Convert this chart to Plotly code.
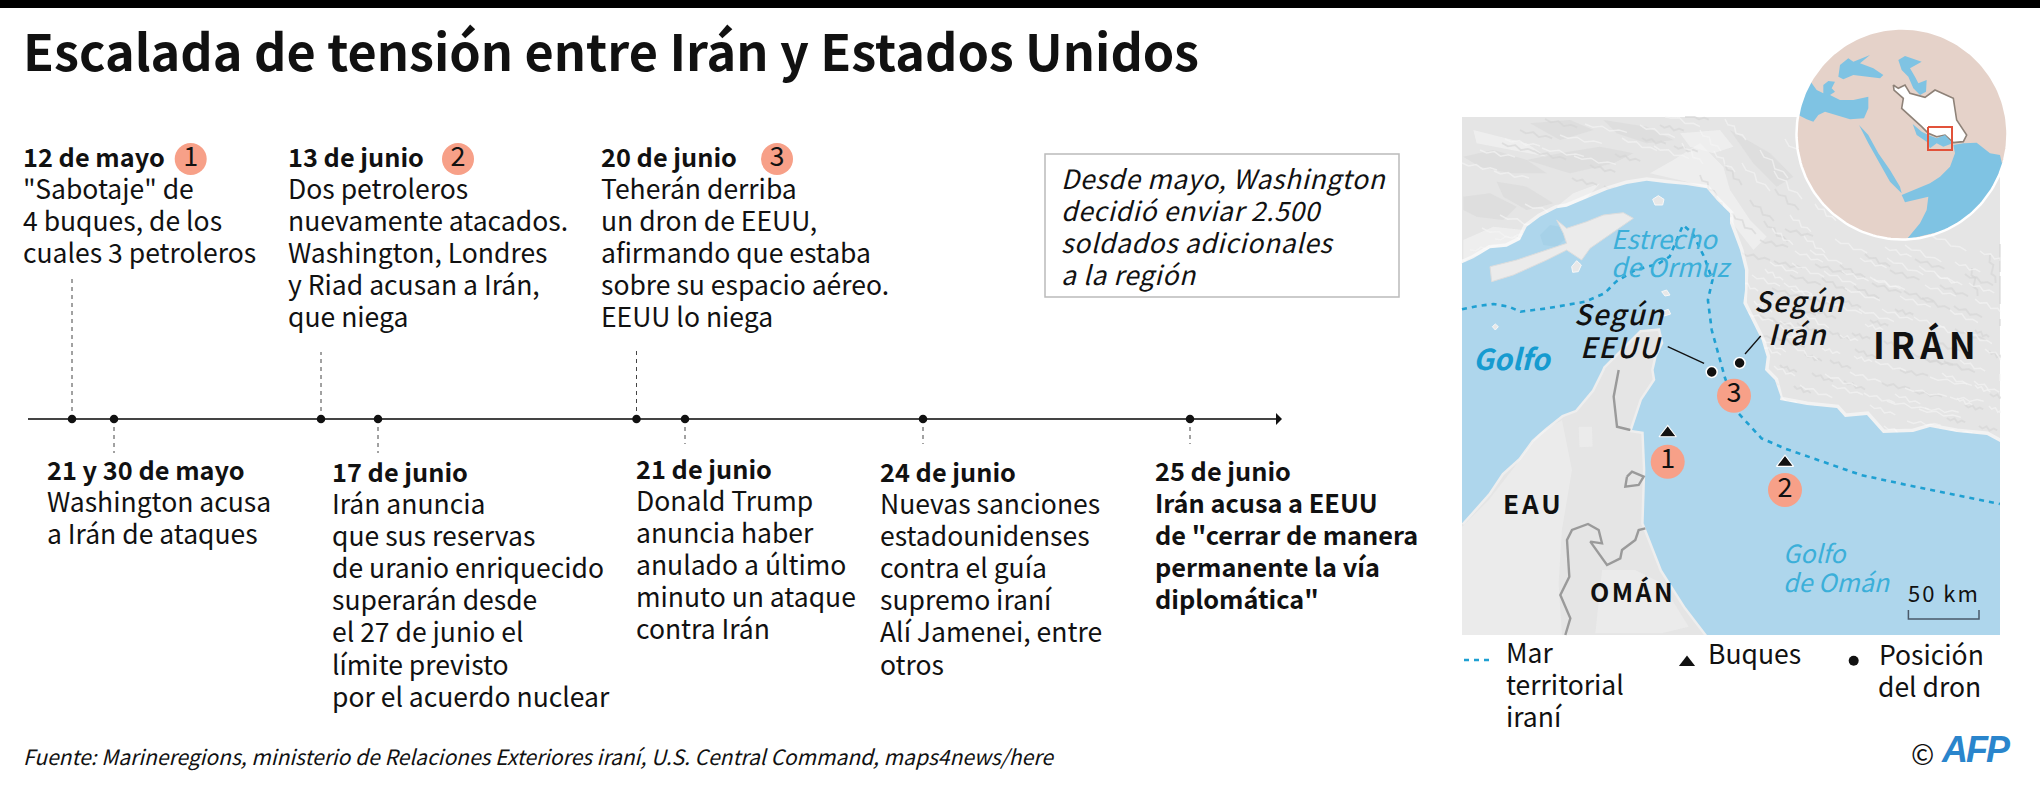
import numpy as np
import plotly.graph_objects as go

FONT = "Noto Sans CJK SC"
W, H = 2040, 788
BODY = 26.5
DATE = 25.3
INK = "#111111"
BADGE = "#F7A088"
SEA = "#AED6EC"
LAND = "#E5E5E5"
DOTLINE = "#1FA0D2"
LABELBLUE = "#3BAFD9"

TITLE = "Escalada de tensión entre Irán y Estados Unidos"
SOURCE = "Fuente: Marineregions, ministerio de Relaciones Exteriores iraní, U.S. Central Command, maps4news/here"

# Timeline
TIMELINE_X = [72, 114, 321, 378, 636.5, 685, 923, 1190]
LEADER_END = [277, 453, 352, 453, 348, 444, 444, 444]
AXIS_Y = 419
EVENT_DATES = ["12 de mayo", "21 y 30 de mayo", "13 de junio", "17 de junio",
               "20 de junio", "21 de junio", "24 de junio", "25 de junio"]
EVENT_X = [24, 48, 289, 333, 601.5, 636.5, 881, 1156]
EVENT_BASE = [167, 480, 167, 482, 167, 479, 482, 481]
EVENT_LINES = [
    ['"Sabotaje" de', "4 buques, de los", "cuales 3 petroleros"],
    ["Washington acusa", "a Irán de ataques"],
    ["Dos petroleros", "nuevamente atacados.", "Washington, Londres", "y Riad acusan a Irán,", "que niega"],
    ["Irán anuncia", "que sus reservas", "de uranio enriquecido", "superarán desde", "el 27 de junio el", "límite previsto", "por el acuerdo nuclear"],
    ["Teherán derriba", "un dron de EEUU,", "afirmando que estaba", "sobre su espacio aéreo.", "EEUU lo niega"],
    ["Donald Trump", "anuncia haber", "anulado a último", "minuto un ataque", "contra Irán"],
    ["Nuevas sanciones", "estadounidenses", "contra el guía", "supremo iraní", "Alí Jamenei, entre", "otros"],
    ["Irán acusa a EEUU", 'de "cerrar de manera', "permanente la vía", 'diplomática"'],
]
EVENT_BOLD = [False, False, False, False, False, False, False, True]
LINE_STEP = 32.1
BADGE_LABELS = ["1", "2", "3"]
BADGE_TOP_X = [190.7, 458, 777]
BADGE_TOP_Y = 159
BADGE_MAP_X = [1667.7, 1785, 1734]
BADGE_MAP_Y = [461.7, 490, 395.7]

NOTE_LINES = ["Desde mayo, Washington", "decidió enviar 2.500", "soldados adicionales", "a la región"]
NOTE_BASE = [189, 221, 253, 285]

# Map outline (pixel traces of the picture)
MAP_X0, MAP_X1, MAP_Y0, MAP_Y1 = 1462, 2000, 117, 635

def z6(p):  # crop 1460,110 at 3x
    return [(1460 + a / 3, 110 + b / 3) for a, b in p]
def z8(p):  # crop 1462,370 at 3x
    return [(1462 + a / 3, 370 + b / 3) for a, b in p]
def z3(p):  # crop 1440,380 at 2.613x/3x
    return [(1440 + a / 2.613, 380 + b / 3) for a, b in p]
def z2(p):  # crop 1440,0 at 2.613x/3x
    return [(1440 + a / 2.613, b / 3) for a, b in p]
def zg(p):  # crop 1790,20 at 3x
    return [(1790 + a / 3, 20 + b / 3) for a, b in p]

NORTH_COAST = z6([(5,460),(40,445),(90,415),(140,410),(180,390),(200,350),(240,320),(290,295),(320,290),(380,265),
                  (440,240),(500,222),(560,212),(620,220),(680,225),(740,235),(770,270),(810,310),(810,340),(840,420),
                  (855,480),(855,540),(850,580),(880,640),(905,690),(920,740),(915,780)])
EAST_COAST = [(1780,400),(1807,405),(1837,408),(1845,417),(1867,415),(1883,433),(1913,432),(1930,427),(1957,432),(1987,435),(2000,442)]
OMAN_COAST = z8([(735,795),(670,710),(600,600),(545,460),(550,300),(545,185),(510,180),(540,90),(580,30),(575,0)]) \
    + z6([(590,740),(610,700),(600,655),(540,660),(480,720),(430,770)]) \
    + z8([(420,0),(390,60),(340,120),(300,135),(250,175),(210,210),(170,265),(120,310),(80,370),(0,460)])
SEA_POLY = NORTH_COAST + z3([(875,0),(890,50)]) + EAST_COAST + [(2000,635)] + OMAN_COAST
QESHM = z6([(90,470),(95,515),(160,495),(260,450),(320,420),(365,450),(390,415),(440,380),(490,345),(520,325),
            (490,308),(430,315),(380,335),(320,355),(290,330),(310,370),(320,400),(260,420),(170,450)])
ISLANDS = [z6([(578,268),(595,257),(612,268),(608,285),(585,285)]),
           z6([(335,470),(350,452),(364,465),(355,485),(338,487)]),
           z6([(97,650),(106,642),(115,650),(106,660)]),
           z6([(605,545),(620,540),(630,555),(615,558)]),
           z6([(605,605),(625,598),(632,612),(612,618)])]
BAY = z6([(240,375),(270,345),(300,350),(318,385),(290,410),(250,405)])
DARK_PATCHES = [z6(p) for p in [
    [(10,140),(100,120),(200,150),(260,190),(150,190),(60,170)],
    [(200,150),(300,130),(420,110),(520,130),(460,160),(330,190)],
    [(10,260),(90,250),(170,290),(130,330),(50,320),(10,300)],
    [(430,30),(560,50),(640,90),(560,100),(470,70)],
    [(810,60),(930,130),(1000,200),(950,230),(880,160)],
    [(210,40),(330,30),(400,60),(300,90)],
    [(110,215),(200,230),(280,280),(200,300),(130,260)],
]]
LIGHT_PATCHES = [z6(p) for p in [
    [(570,190),(640,150),(720,100),(790,170),(810,240),(870,330),(920,380),(880,420),(810,330),(760,240),(680,215)],
    [(290,290),(340,250),(420,220),(380,265),(300,300)],
    [(10,390),(100,350),(190,360),(180,400),(130,415),(40,440),(10,455)],
    [(40,60),(200,100),(260,140),(150,120),(50,100)],
    [(660,70),(780,60),(820,110),(760,130),(690,110)],
]]
SOUTH_LIGHT = [z8([(0,470),(80,390),(150,300),(230,190),(300,150),(330,300),(300,480),(290,640),(300,800),(0,800)]),
               z8([(350,170),(390,170),(392,230),(352,232)]),
               z8([(420,600),(520,600),(600,640),(680,770),(600,790),(400,790)])]
LIGHT_STROKES = [(1770,262,40,16),(1810,250,46,20),(1860,258,38,14),(1905,245,52,24),(1955,262,36,14),
                 (1766,300,36,12),(1845,288,50,18),(1900,296,44,16),(1950,310,40,18),(1760,345,30,14),
                 (1850,372,44,14),(1905,388,60,12),(1800,385,46,18),(1870,405,36,14),(1925,408,48,6),
                 (1960,360,36,16),(1740,280,26,16),(1780,325,34,20),(1975,385,22,10),(1840,335,26,8),
                 (1480,150,50,10),(1560,135,60,12),(1640,125,50,18),(1500,215,60,18),(1590,210,44,14),
                 (1700,130,30,30),(1760,150,40,40),(1790,215,30,24),(1470,250,40,-6)]
DARK_STROKES = [(1790,275,44,14),(1840,265,36,18),(1890,270,42,14),(1940,285,40,16),(1760,315,44,16),
                (1815,310,30,12),(1870,320,26,8),(1930,340,44,16),(1975,330,20,10),(1830,360,30,12),
                (1780,365,24,10),(1900,370,40,8),(1965,405,26,6),(1760,240,40,10),(1990,255,8,40),
                (1520,130,46,12),(1590,165,36,10),(1700,175,24,30),(1750,200,34,30),(1660,125,34,8)]
STROKE_COPIES = [(0, 0), (14, 21), (-18, 13), (25, -11)]
STROKE_JAG = [0, 1.6, -1.2, 2, -0.8, 0]

TERRITORIAL = z2([(57,928),(100,918),(140,912),(180,920),(210,935),(280,925),(380,905),(430,880),(460,845),(510,810),
                  (570,792),(600,770),(622,710),(635,675),(660,700),(690,770),(712,840),(700,900),(710,990),(745,1135)]) \
    + z3([(780,100),(840,175),(900,205),(1000,245),(1100,285),(1200,310),(1350,345),(1463,372)])
BORDERS = [z8([(470,0),(455,80),(465,170),(505,180)]),
           z8([(550,475),(530,480),(520,510),(480,540),(475,565),(435,585),(385,515),(420,520),(410,480),(378,462),
               (330,480),(315,510),(322,620),(295,675),(325,745),(310,795)]),
           z8([(495,320),(510,305),(545,320),(530,345),(490,350),(495,320)])]
SHIP_X = [1667.7, 1785]
SHIP_Y = [433, 462.7]
DRONE_X = [1711.7, 1739.6]
DRONE_Y = [372, 363]
CALLOUTS = [z2([(595,1040),(690,1090)]), z2([(838,1008),(797,1062)])]

# Globe
GC = (1902, 134)
GR = 105.5
G_SEAS = [
    [(62,185),(80,210),(100,220),(100,195),(115,183),(135,185),(125,205),(135,215),(120,225),(150,240),(190,240),(235,230),
     (235,265),(222,295),(180,298),(140,285),(105,275),(85,285),(70,305),(50,298),(25,285),(35,240)],
    [(145,170),(150,135),(175,115),(190,125),(240,105),(210,130),(250,145),(280,165),(270,175),(220,170),(190,165),(160,178)],
    [(325,120),(345,108),(395,125),(360,145),(375,170),(385,190),(410,180),(408,215),(390,225),(370,205),(355,170),(335,150)],
    [(207,315),(235,345),(265,400),(300,450),(330,500),(335,520),(300,485),(265,425),(235,370)],
    [(335,525),(360,515),(420,490),(450,470),(480,440),(495,400),(490,375),(520,370),(560,368),(600,400),(630,405),(645,440),
     (610,530),(550,600),(470,645),(350,665),(390,610),(410,570),(415,530),(345,547)],
]
G_GULF = [(368,312),(395,335),(415,345),(440,355),(465,345),(488,370),(460,380),(440,370),(420,385),(410,365),(380,345)]
G_IRAN = [(310,195),(325,205),(345,195),(360,220),(405,232),(435,210),(490,235),(500,300),(530,345),(520,365),(490,368),
          (465,345),(440,350),(415,340),(395,320),(335,265),(340,235),(312,210),(310,195)]
G_BOX = [(1928,127),(1952,127),(1952,150),(1928,150),(1928,127)]

fig = go.Figure()

def poly(pts, fill=None, line=None, lw=0, dash=None, opacity=1, clip=True):
    xs = np.array([p[0] for p in pts], float)
    ys = np.array([p[1] for p in pts], float)
    if clip:
        xs = np.clip(xs, MAP_X0, MAP_X1)
        ys = np.clip(ys, MAP_Y0, MAP_Y1)
    fig.add_trace(go.Scatter(
        x=xs, y=ys, mode="lines", opacity=opacity, hoverinfo="skip", showlegend=False,
        fill="toself" if fill else None, fillcolor=fill,
        line=dict(color=line or "rgba(0,0,0,0)", width=lw, dash=dash)))

def clamp_globe(pts):
    out = []
    for x, y in pts:
        d = np.hypot(x - GC[0], y - GC[1])
        if d > GR:
            x = GC[0] + (x - GC[0]) * GR / d
            y = GC[1] + (y - GC[1]) * GR / d
        out.append((x, y))
    return out

def strokes(lst, color, lw):
    xs, ys = [], []
    for x, y, dx, dy in lst:
        for ox, oy in STROKE_COPIES:
            n = len(STROKE_JAG) - 1
            for i, j in enumerate(STROKE_JAG):
                xs.append(np.clip(x + ox + dx * i / n * 0.7 - dy * j / 40, MAP_X0, MAP_X1))
                ys.append(np.clip(y + oy + dy * i / n * 0.7 + j, MAP_Y0, MAP_Y1))
            xs.append(None)
            ys.append(None)
    fig.add_trace(go.Scatter(x=xs, y=ys, mode="lines", hoverinfo="skip", showlegend=False,
                             line=dict(color=color, width=lw)))

labels = []
def text(x, base, s, size=BODY, weight=400, italic=False, color=INK, anchor="left", spacing=0, fam=FONT):
    body = s if not spacing else f'<span style="letter-spacing:{spacing}px">{s}</span>'
    labels.append(dict(
        x=x - 1, y=base - 0.436 * size, text=body, showarrow=False, xanchor=anchor, yanchor="middle",
        borderpad=0, borderwidth=0,
        font=dict(family=fam, size=size, color=color, weight=weight, style="italic" if italic else "normal")))

# Top bar
fig.add_shape(type="rect", x0=0, x1=W, y0=0, y1=8, fillcolor="black", line_width=0)

# ---- timeline
for x, end in zip(TIMELINE_X, LEADER_END):
    fig.add_trace(go.Scatter(x=[x, x], y=[AXIS_Y, end], mode="lines", hoverinfo="skip", showlegend=False,
                             line=dict(color="#444444", width=1, dash="4px,4px")))
fig.add_trace(go.Scatter(x=[28, 1278], y=[AXIS_Y, AXIS_Y], mode="lines", hoverinfo="skip", showlegend=False,
                         line=dict(color="#444444", width=2)))
fig.add_trace(go.Scatter(x=[1276, 1282, 1276, 1276], y=[AXIS_Y - 6, AXIS_Y, AXIS_Y + 6, AXIS_Y - 6], mode="lines",
                         fill="toself", fillcolor="#111111", line=dict(width=0), hoverinfo="skip", showlegend=False))
fig.add_trace(go.Scatter(x=TIMELINE_X, y=[AXIS_Y] * len(TIMELINE_X), mode="markers", hoverinfo="skip", showlegend=False,
                         marker=dict(color="#111111", size=8.5)))
for date, ex, eb, lines, bold in zip(EVENT_DATES, EVENT_X, EVENT_BASE, EVENT_LINES, EVENT_BOLD):
    text(ex, eb, date, size=DATE, weight=700)
    for i, ln in enumerate(lines):
        text(ex, eb + (i + 1) * LINE_STEP, ln, size=DATE if bold else BODY, weight=700 if bold else 400)

# ---- note box
fig.add_shape(type="rect", x0=1045, x1=1399, y0=154, y1=297, line=dict(color="#BBBBBB", width=1.5), fillcolor="rgba(0,0,0,0)")
for ln, b in zip(NOTE_LINES, NOTE_BASE):
    text(1062, b, ln, italic=True, spacing=0.6)

# ---- map
poly([(MAP_X0, MAP_Y0), (MAP_X1, MAP_Y0), (MAP_X1, MAP_Y1), (MAP_X0, MAP_Y1), (MAP_X0, MAP_Y0)], fill=LAND)
for p in DARK_PATCHES:
    poly(p + [p[0]], fill="rgba(216,216,216,0.5)")
for p in LIGHT_PATCHES:
    poly(p + [p[0]], fill="rgba(245,245,245,0.55)")
for p in SOUTH_LIGHT:
    poly(p + [p[0]], fill="rgba(242,242,242,0.45)")
strokes(DARK_STROKES, "rgba(212,212,212,0.6)", 1.8)
strokes(LIGHT_STROKES, "rgba(244,244,244,0.65)", 1.5)
poly(NORTH_COAST + z3([(875,0),(890,50)]) + EAST_COAST, line="rgba(255,255,255,0.5)", lw=7)
poly(OMAN_COAST, line="rgba(255,255,255,0.35)", lw=5)
poly(SEA_POLY + [SEA_POLY[0]], fill=SEA)
poly(BAY, fill="#A6D1E8")
poly(QESHM + [QESHM[0]], fill="#EBEBEB", line="#DDDDDD", lw=1)
for p in ISLANDS:
    poly(p + [p[0]], fill="#E8E8E8", line="#F8F8F8", lw=1)
for b in BORDERS:
    poly(b, line="#9A9A9A", lw=2.4)
poly(TERRITORIAL, line=DOTLINE, lw=2.6, dash="5px,5px")
for c in CALLOUTS:
    poly(c, line="#111111", lw=1.3)
fig.add_trace(go.Scatter(x=DRONE_X, y=DRONE_Y, mode="markers", hoverinfo="skip", showlegend=False,
                         marker=dict(color="#111111", size=11, line=dict(color="white", width=1.5))))
fig.add_trace(go.Scatter(x=SHIP_X, y=SHIP_Y, mode="markers", hoverinfo="skip", showlegend=False,
                         marker=dict(color="#111111", symbol="triangle-up", size=15, line=dict(color="white", width=1.2))))
# badges
fig.add_trace(go.Scatter(x=BADGE_MAP_X, y=BADGE_MAP_Y, mode="markers+text", text=BADGE_LABELS, textposition="middle center",
                         hoverinfo="skip", showlegend=False, textfont=dict(family=FONT, size=27, color=INK),
                         marker=dict(color=BADGE, size=34)))
fig.add_trace(go.Scatter(x=BADGE_TOP_X, y=[BADGE_TOP_Y] * 3, mode="markers+text", text=BADGE_LABELS, textposition="middle center",
                         hoverinfo="skip", showlegend=False, textfont=dict(family=FONT, size=27, color=INK),
                         marker=dict(color=BADGE, size=32)))

# ---- globe
ang = np.linspace(0, 2 * np.pi, 181)
cx = GC[0] + GR * np.cos(ang)
cy = GC[1] + GR * np.sin(ang)
fig.add_trace(go.Scatter(x=cx, y=cy, mode="lines", fill="toself", fillcolor="#E5D2C9", hoverinfo="skip", showlegend=False,
                         line=dict(width=0)))
for s in G_SEAS:
    pts = clamp_globe(zg(s))
    poly(pts + [pts[0]], fill="#7FC3E3", clip=False)
poly(clamp_globe(zg(G_IRAN)), fill="#FFFFFF", line="#8E8278", lw=1.6, clip=False)
gulf = clamp_globe(zg(G_GULF))
poly(gulf + [gulf[0]], fill="#7FC3E3", clip=False)
poly(G_BOX, line="#E2523A", lw=2, clip=False)
fig.add_trace(go.Scatter(x=cx, y=cy, mode="lines", hoverinfo="skip", showlegend=False, line=dict(color="white", width=2.5)))

# ---- legend
poly([(1464, 660), (1492, 660)], line=DOTLINE, lw=2.4, dash="5px,5px", clip=False)
fig.add_trace(go.Scatter(x=[1687], y=[662.5], mode="markers", hoverinfo="skip", showlegend=False,
                         marker=dict(color="#111111", symbol="triangle-up", size=14)))
fig.add_trace(go.Scatter(x=[1853.7], y=[660.7], mode="markers", hoverinfo="skip", showlegend=False,
                         marker=dict(color="#111111", size=10)))
for ln, b in zip(["Mar", "territorial", "iraní"], [663, 695, 727]):
    text(1507, b, ln)
text(1709, 664, "Buques")
text(1879.5, 665, "Posición")
text(1879, 697, "del dron")

# scale bar
poly([(1908.4, 610), (1908.4, 619), (1979, 619), (1979, 610)], line="#4A5A6A", lw=1.5)

# ---- title, source, map labels
text(24, 71, TITLE, size=50.4, weight=700)
text(24, 765, SOURCE, size=21, italic=True)
text(1575, 325, "Según", size=28, weight=500, italic=True, spacing=1.5)
text(1581, 358, "EEUU", size=28, weight=500, italic=True, spacing=1.5)
text(1755, 312, "Según", size=28, weight=500, italic=True, spacing=1.5)
text(1769, 345, "Irán", size=28, weight=500, italic=True, spacing=1.5)
text(1874, 359, "IRÁN", size=36, weight=700, spacing=5.5)
text(1474, 370, "Golfo", size=29, weight=700, italic=True, color="#159BD0")
text(1612, 249, "Estrecho", size=26, italic=True, color=LABELBLUE)
text(1612, 277, "de Ormuz", size=26, italic=True, color=LABELBLUE)
text(1784, 563, "Golfo", size=25, italic=True, color=LABELBLUE)
text(1784, 592, "de Omán", size=25, italic=True, color=LABELBLUE)
text(1504, 514, "EAU", size=26, weight=700, spacing=3)
text(1591, 602, "OMÁN", size=25, weight=700, spacing=2.5)
text(1909, 602, "50 km", size=22, spacing=2)
text(1912, 765, "©", size=28)
text(1942, 765, "AFP", size=36, weight=700, italic=True, color="#2A85CC", spacing=-2, fam="Liberation Sans")

fig.update_layout(
    width=W, height=H, margin=dict(l=0, r=0, t=0, b=0), paper_bgcolor="white", plot_bgcolor="white",
    showlegend=False, annotations=labels,
    xaxis=dict(range=[0, W], visible=False, fixedrange=True),
    yaxis=dict(range=[H, 0], visible=False, fixedrange=True),
)
fig.write_html("out.html", config=dict(displayModeBar=False),
               post_script="document.body.style.margin='0';document.documentElement.style.overflow='hidden';")
